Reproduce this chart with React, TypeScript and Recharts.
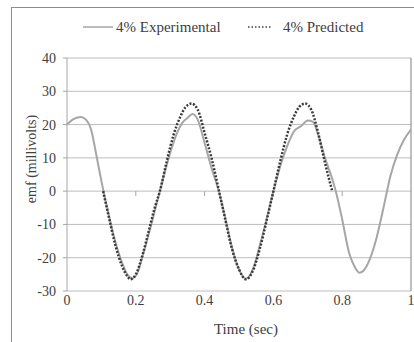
import { CartesianGrid, Label, Line, LineChart, ReferenceLine, XAxis, YAxis } from "recharts";

// 4% experimental emf
const expTime = [
  0, 0.02, 0.04, 0.055, 0.07, 0.085, 0.1, 0.12, 0.14, 0.16, 0.175, 0.19, 0.205, 0.22, 0.24, 0.26, 0.28, 0.3, 0.32,
  0.335, 0.35, 0.365, 0.38, 0.4, 0.42, 0.44, 0.46, 0.48, 0.5, 0.52, 0.54, 0.56, 0.58, 0.6, 0.62, 0.64, 0.66, 0.68,
  0.7, 0.715, 0.73, 0.75, 0.77, 0.785, 0.8, 0.82, 0.835, 0.85, 0.865, 0.88, 0.9, 0.92, 0.94, 0.96, 0.98, 1,
];
const expEmf = [
  20, 21.7, 22.3, 21.5, 18.5, 11, 3, -6.5, -15, -21.5, -25, -26.2, -24.5, -19.5, -12, -4, 4, 11.5, 17.5,
  20.5, 22, 23.2, 21.5, 14.5, 7, 0.5, -8, -17, -23.5, -26.3, -23.5, -16.5, -8.5, 0, 7.5, 13.5, 18, 19.5,
  21.2, 20.8, 17, 10, 4, -1.5, -8.5, -18.5, -22.5, -24.5, -23.5, -20.5, -14, -5, 4.5, 11, 15.5, 18.5,
];

// 4% predicted emf
const predTime = [
  0.105, 0.12, 0.14, 0.16, 0.175, 0.185, 0.2, 0.22, 0.24, 0.255, 0.27, 0.29, 0.31, 0.33, 0.345, 0.362, 0.38, 0.4,
  0.42, 0.442, 0.46, 0.48, 0.5, 0.52, 0.54, 0.56, 0.58, 0.6, 0.62, 0.64, 0.66, 0.675, 0.692, 0.71, 0.73, 0.75, 0.771,
];
const predEmf = [
  0, -7, -16, -22.5, -25.5, -26.5, -25, -19, -11, -5, 0, 9, 17, 22.5, 25.3, 26.3, 24.5, 17.5,
  10, 0, -8.5, -17.5, -23.5, -26.5, -24, -17.5, -9, 0, 9, 17, 22.5, 25.3, 26.3, 24.5, 17.5, 8.5, 0,
];

const xTicks = [0, 0.2, 0.4, 0.6, 0.8, 1];
const yTicks = [-30, -20, -10, 0, 10, 20, 30, 40];
const zeroTicks = [0.2, 0.4, 0.6, 0.8];

const experimental = expTime.map((t, i) => ({ t, emf: expEmf[i] }));
const predicted = predTime.map((t, i) => ({ t, emf: predEmf[i] }));

const font = "'Liberation Serif', 'Times New Roman', serif";
const textColor = "#404040";

export default function App() {
  return (
    <div style={{ position: "fixed", left: 0, top: 0, width: 414, height: 342, overflow: "hidden", background: "#fff", fontFamily: font }}>
      {/* outer chart frame */}
      <div style={{ position: "absolute", left: 11, top: 7, width: 420, height: 360, border: "1px solid #8c8c8c" }} />

      {/* legend + y axis title */}
      <svg width={414} height={342} style={{ position: "absolute", left: 0, top: 0 }}>
        <line x1={83} x2={113} y1={27} y2={27} stroke="#a6a6a6" strokeWidth={1.5} />
        <text x={116} y={32} fontSize={15} fill={textColor} fontFamily={font}>4% Experimental</text>
        <line x1={248} x2={271} y1={27} y2={27} stroke="#404040" strokeWidth={1.5} strokeDasharray="1.5 2" />
        <text x={283} y={32} fontSize={15} fill={textColor} fontFamily={font}>4% Predicted</text>
        <text x={36} y={159} transform="rotate(-90 36 159)" textAnchor="middle" fontSize={14} fill={textColor} fontFamily={font}>
          emf (millivolts)
        </text>
      </svg>

      <div style={{ position: "absolute", left: 0, top: 0 }}>
        <LineChart width={414} height={342} margin={{ top: 58, right: 3, bottom: 6, left: 0 }}>
          <CartesianGrid vertical={false} stroke="#bdbdbd" />
          <XAxis
            type="number"
            dataKey="t"
            domain={[0, 1]}
            ticks={xTicks}
            tick={{ fontSize: 14, fill: textColor, fontFamily: font }}
            tickLine={false}
            axisLine={false}
            tickSize={0}
            tickMargin={4}
            height={45}
            interval={0}
          >
            <Label value="Time (sec)" position="insideBottom" offset={2} dx={7} fontSize={15} fill={textColor} fontFamily={font} />
          </XAxis>
          <YAxis
            type="number"
            domain={[-30, 40]}
            ticks={yTicks}
            tick={{ fontSize: 14, fill: textColor, fontFamily: font }}
            tickLine={{ stroke: "#a6a6a6" }}
            axisLine={{ stroke: "#a6a6a6" }}
            tickSize={4}
            tickMargin={7}
            width={67}
            interval={0}
          />
          <ReferenceLine x={1} stroke="#808080" />
          {zeroTicks.map((x) => (
            <ReferenceLine key={x} segment={[{ x, y: 0 }, { x, y: -1.5 }]} stroke="#a6a6a6" />
          ))}
          <Line
            data={experimental}
            dataKey="emf"
            type="monotone"
            stroke="#a6a6a6"
            strokeWidth={2}
            dot={false}
            isAnimationActive={false}
          />
          <Line
            data={predicted}
            dataKey="emf"
            type="monotone"
            stroke="#3a3a3a"
            strokeWidth={2.5}
            strokeDasharray="2 1.6"
            dot={false}
            isAnimationActive={false}
          />
        </LineChart>
      </div>
    </div>
  );
}
